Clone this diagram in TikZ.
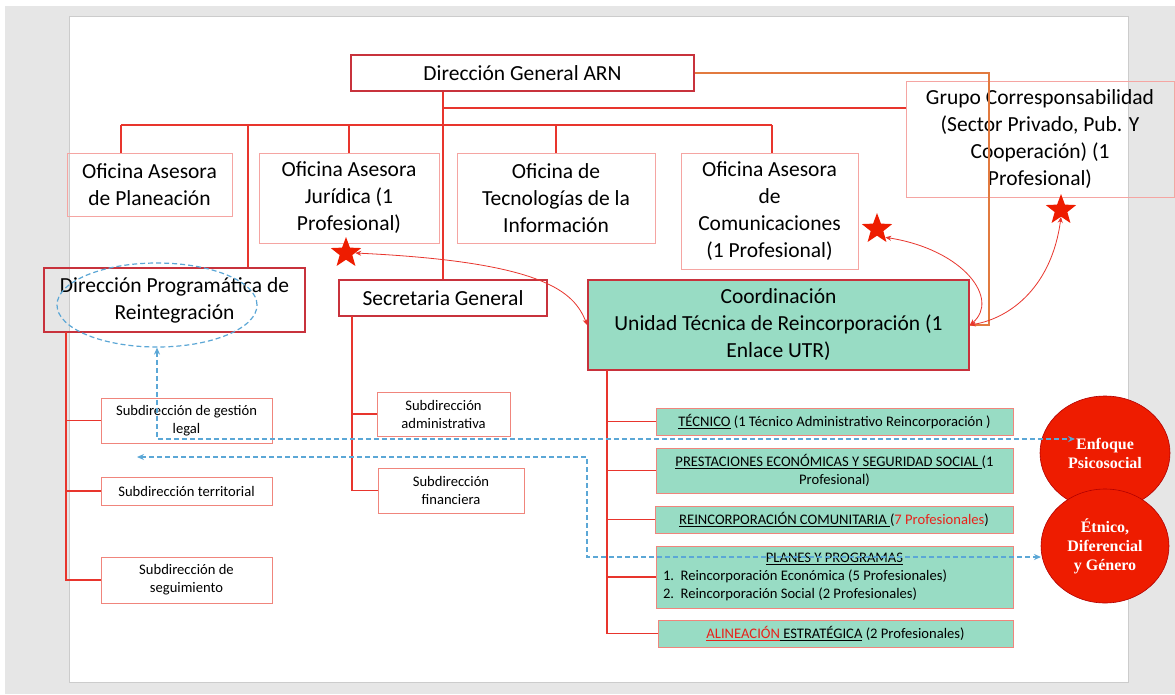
\documentclass[tikz,border=0pt]{standalone}
\usepackage{fontspec}
\setmainfont{Carlito}
\newfontfamily\circfont{Liberation Serif}
\usetikzlibrary{shapes.geometric,arrows.meta}
\definecolor{pagegray}{HTML}{E6E6E6}
\definecolor{linered}{HTML}{E8352D}
\definecolor{darkred}{HTML}{C8323C}
\definecolor{pinkline}{HTML}{F5A5A2}
\definecolor{subline}{HTML}{F0857C}
\definecolor{lineorange}{HTML}{E27A3F}
\definecolor{mint}{HTML}{98DCC4}
\definecolor{dashblue}{HTML}{5BA7D6}
\definecolor{circred}{HTML}{EE1C00}
\definecolor{txtred}{HTML}{E8221B}
\tikzset{
  big/.style={font=\fontsize{21.5}{27}\selectfont, align=center, inner sep=0pt},
  small/.style={font=\fontsize{14.6}{18}\selectfont, align=center, inner sep=0pt},
  ofibox/.style={big, draw=pinkline, line width=1pt},
  mainbox/.style={big, draw=darkred, line width=1.6pt},
  subbox/.style={small, draw=subline, line width=1pt},
  utrbox/.style={small, draw=subline, fill=mint, line width=1pt},
  orgline/.style={linered, line width=1.2pt},
  redstar/.style={star, star points=5, star point ratio=2.4, minimum size=32pt, inner sep=0pt, fill=circred},
  redarrow/.style={linered, line width=0.8pt, {Stealth[length=6pt,width=5pt]}-{Stealth[length=6pt,width=5pt]}},
  bluearrow/.style={dashblue, dash pattern=on 5pt off 3pt, line width=1.2pt, {Stealth[length=7pt,width=6pt]}-{Stealth[length=7pt,width=6pt]}},
  enfoque/.style={ellipse, fill=circred, draw=red!70!black, line width=0.6pt, inner sep=0pt,
    text=white, align=center, font=\circfont\bfseries\fontsize{16}{19}\selectfont}
}
\begin{document}
\begin{tikzpicture}[x=1pt,y=-1pt]
\useasboundingbox (0,0) rectangle (1175,694);
\fill[white] (0,0) rectangle (1175,694);
\fill[pagegray] (5,6) rectangle (1175,694);
\draw[fill=white,draw=gray!40,line width=1pt] (69,16) rectangle (1128,682);

\node[mainbox, minimum width=343, minimum height=36] (dg) at (522.5,73) {Dirección General ARN};
\node[ofibox, minimum width=165, minimum height=63] (plan) at (149.5,184.5) {Oficina Asesora\\de Planeación};
\node[ofibox, minimum width=180, minimum height=90] (jur) at (349,198) {Oficina Asesora\\Jurídica (1\\Profesional)};
\node[ofibox, minimum width=198, minimum height=90] (tec) at (556,198) {Oficina de\\Tecnologías de la\\Información};
\node[ofibox, minimum width=177, minimum height=116] (com) at (769.5,211) {Oficina Asesora\\de\\Comunicaciones\\(1 Profesional)};
\node[ofibox, minimum width=268, minimum height=116] (grupo) at (1040,139) {Grupo Corresponsabilidad\\(Sector Privado, Pub. Y\\Cooperación) (1\\Profesional)};
\node[mainbox, minimum width=261, minimum height=64] (dpr) at (174.5,300) {Dirección Programática de\\Reintegración};
\node[mainbox, minimum width=208, minimum height=36] (sec) at (443,298) {Secretaria General};
\node[mainbox, fill=mint, minimum width=381, minimum height=90] (coord) at (778.5,325) {Coordinación\\Unidad Técnica de Reincorporación (1\\Enlace UTR)};
\node[draw=dashblue, dash pattern=on 5pt off 3pt, line width=1.2pt, ellipse, minimum width=200, minimum height=84] (ell) at (157,305) {};

\node[subbox, minimum width=171, minimum height=45] (legal) at (186.5,420.5) {Subdirección de gestión\\legal};
\node[subbox, minimum width=171, minimum height=28] (terr) at (186.5,491) {Subdirección territorial};
\node[subbox, minimum width=171, minimum height=46] (seg) at (186.5,580) {Subdirección de\\seguimiento};
\node[subbox, minimum width=133, minimum height=44] (adm) at (443.5,414) {Subdirección\\administrativa};
\node[subbox, minimum width=146, minimum height=45] (fin) at (451,490.5) {Subdirección\\financiera};

\node[utrbox, minimum width=357, minimum height=27] (tecn) at (834.5,421.5) {\underline{TÉCNICO} (1 Técnico Administrativo Reincorporación )};
\node[utrbox, minimum width=357, minimum height=45] (prest) at (834.5,470.5) {\underline{PRESTACIONES ECONÓMICAS Y SEGURIDAD SOCIAL\ }(1\\Profesional)};
\node[utrbox, minimum width=358, minimum height=27] (comu) at (834,519.5) {\underline{REINCORPORACIÓN COMUNITARIA\ }(\textcolor{txtred}{7 Profesionales})};
\node[utrbox, minimum width=357, minimum height=62] (planes) at (834.5,577) {\parbox{343pt}{\centering\underline{PLANES Y PROGRAMAS}\par\raggedright
  1.~~Reincorporación Económica (5 Profesionales)\par 2.~~Reincorporación Social (2 Profesionales)}};
\node[utrbox, minimum width=355, minimum height=27] (alin) at (835.5,633.5) {\textcolor{txtred}{\underline{ALINEACIÓN}}\underline{ ESTRATÉGICA} (2 Profesionales)};

% tronco y ramas
\coordinate (b0) at (444,108);
\coordinate (busL) at (121,125);
\coordinate (b2) at (248,125);
\coordinate (busR) at (772,125);
\draw[orgline] (dg.south -| sec.north) -- (sec.north);
\draw[orgline] (b0) -- (b0 -| grupo.west);
\draw[orgline] (busL) -- (busR);
\draw[orgline] (busL) -- (busL |- plan.north);
\draw[orgline] (b2) -- (b2 |- dpr.north);
\draw[orgline] (busL -| jur.north) -- (jur.north);
\draw[orgline] (busL -| tec.north) -- (tec.north);
\draw[orgline] (busR) -- (busR |- com.north);
\coordinate (oc) at (989,325);
\draw[lineorange, line width=1.2pt] (dg.east) -| (oc) -- (coord.east);

\coordinate (lv) at (66,332);
\draw[orgline] (lv) |- (seg.west);
\draw[orgline] (lv |- legal.west) -- (legal.west);
\draw[orgline] (lv |- terr.west) -- (terr.west);
\coordinate (sv) at (352,316);
\draw[orgline] (sv) |- (fin.west);
\draw[orgline] (sv |- adm.west) -- (adm.west);
\coordinate (cv) at (607,370);
\draw[orgline] (cv) |- (alin.west);
\foreach \n in {tecn,prest,comu,planes}
  \draw[orgline] (cv |- \n.west) -- (\n.west);

% estrellas
\node[redstar] (s1) at (346,253) {};
\node[redstar] (s2) at (877,229) {};
\node[redstar] (s3) at (1061,210) {};
\draw[redarrow] (s1.east) .. controls (545,262) and (574,292) .. (coord.west);
\draw[redarrow] (s2.south east) .. controls (965,250) and (1000,300) .. (coord.east);
\draw[redarrow] (s3.south) .. controls (1052,285) and (1012,318) .. (coord.east);

% enfoques
\node[enfoque, minimum width=130, minimum height=114] (enf) at (1105,453) {Enfoque\\Psicosocial};
\node[enfoque, minimum width=128, minimum height=114] (etn) at (1105,546) {Étnico,\\Diferencial\\y Género};
\coordinate (ea) at (1075,439);
\coordinate (eb) at (1041,557);
\coordinate (ec) at (137,457);
\coordinate (kb) at (587,457);
\draw[bluearrow] (ell.south) |- (ea);
\draw[bluearrow] (ec) -- (kb) |- (eb);
\end{tikzpicture}
\end{document}
